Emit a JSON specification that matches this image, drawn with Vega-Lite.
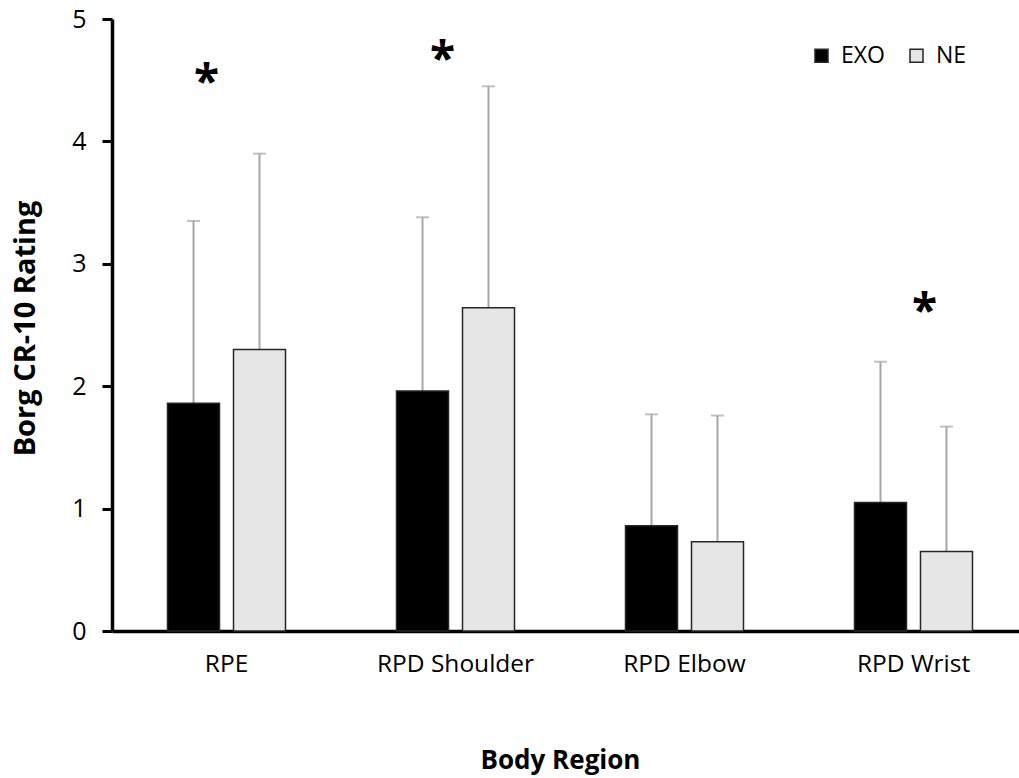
{
  "$schema": "https://vega.github.io/schema/vega-lite/v6.json",
  "width": 907,
  "height": 612,
  "autosize": {"type": "none"},
  "padding": {"left": 112, "top": 19, "right": 0, "bottom": 147},
  "background": "white",
  "config": {
    "view": {"stroke": null},
    "font": "Open Sans"
  },
  "datasets": {
    "bars": [
      {"region": "RPE", "group": "EXO", "mean": 1.86, "upper": 3.35},
      {"region": "RPE", "group": "NE", "mean": 2.30, "upper": 3.90},
      {"region": "RPD Shoulder", "group": "EXO", "mean": 1.96, "upper": 3.38},
      {"region": "RPD Shoulder", "group": "NE", "mean": 2.64, "upper": 4.45},
      {"region": "RPD Elbow", "group": "EXO", "mean": 0.86, "upper": 1.77},
      {"region": "RPD Elbow", "group": "NE", "mean": 0.73, "upper": 1.76},
      {"region": "RPD Wrist", "group": "EXO", "mean": 1.05, "upper": 2.20},
      {"region": "RPD Wrist", "group": "NE", "mean": 0.65, "upper": 1.67}
    ],
    "stars": [
      {"region": "RPE", "y": 4.54, "label": "*"},
      {"region": "RPD Shoulder", "y": 4.73, "label": "*"},
      {"region": "RPD Wrist", "y": 2.67, "label": "*"}
    ]
  },
  "encoding": {
    "x": {
      "field": "region",
      "type": "nominal",
      "sort": ["RPE", "RPD Shoulder", "RPD Elbow", "RPD Wrist"],
      "scale": {"domain": ["RPE", "RPD Shoulder", "RPD Elbow", "RPD Wrist"], "range": [0, 916], "paddingInner": 0.4847, "paddingOuter": 0.2424},
      "axis": {
        "title": "Body Region",
        "labelAngle": 0,
        "ticks": false,
        "domainColor": "black",
        "domainWidth": 3.5,
        "labelFont": "Open Sans",
        "labelFontSize": 24.5,
        "labelColor": "black",
        "labelPadding": 21,
        "titleFont": "Open Sans",
        "titleFontSize": 26,
        "titleFontWeight": "bold",
        "titleColor": "black",
        "titleBaseline": "middle",
        "titleY": 129,
        "titleX": 448
      }
    }
  },
  "layer": [
    {
      "data": {"name": "bars"},
      "mark": {"type": "rule", "color": "#a6a6a6", "strokeWidth": 2},
      "encoding": {
        "xOffset": {"field": "group", "type": "nominal", "scale": {"domain": ["EXO", "NE"], "paddingInner": 0.212, "paddingOuter": 0}},
        "y": {"field": "mean", "type": "quantitative"},
        "y2": {"field": "upper"}
      }
    },
    {
      "data": {"name": "bars"},
      "mark": {"type": "tick", "color": "#a6a6a6", "thickness": 2, "size": 13, "orient": "horizontal"},
      "encoding": {
        "xOffset": {"field": "group", "type": "nominal", "scale": {"domain": ["EXO", "NE"], "paddingInner": 0.212, "paddingOuter": 0}},
        "y": {"field": "upper", "type": "quantitative"}
      }
    },
    {
      "data": {"name": "bars"},
      "mark": {"type": "bar", "stroke": "#262626", "strokeWidth": 1.5},
      "encoding": {
        "xOffset": {"field": "group", "type": "nominal", "scale": {"domain": ["EXO", "NE"], "paddingInner": 0.212, "paddingOuter": 0}},
        "y": {
          "field": "mean",
          "type": "quantitative",
          "scale": {"domain": [0, 5], "nice": false},
          "axis": {
            "title": "Borg CR-10 Rating",
            "values": [0, 1, 2, 3, 4, 5],
            "format": "d",
            "grid": false,
            "tickSize": 10,
            "tickWidth": 3,
            "tickColor": "black",
            "domainColor": "black",
            "domainWidth": 3.5,
            "labelFont": "Open Sans",
            "labelFontSize": 25,
            "labelColor": "black",
            "labelPadding": 16,
            "titleFont": "Open Sans",
            "titleFontSize": 29,
            "titleFontWeight": "bold",
            "titleColor": "black",
            "titleBaseline": "middle",
            "titleAngle": -90,
            "titleX": -87,
            "titleY": 309
          }
        },
        "fill": {
          "field": "group",
          "type": "nominal",
          "scale": {"domain": ["EXO", "NE"], "range": ["#000000", "#e6e6e6"]},
          "legend": {
            "title": null,
            "orient": "none",
            "legendX": 698,
            "legendY": 25,
            "direction": "horizontal",
            "symbolType": "square",
            "symbolSize": 169,
            "symbolStrokeColor": "#262626",
            "symbolStrokeWidth": 1.5,
            "labelFont": "Open Sans",
            "labelFontSize": 23,
            "labelColor": "black",
            "labelOffset": 8,
            "columnPadding": 20
          }
        }
      }
    },
    {
      "data": {"name": "stars"},
      "transform": [{"filter": "datum.region === 'RPE'"}],
      "mark": {"type": "text", "fontSize": 46, "fontWeight": "bold", "font": "Open Sans", "baseline": "alphabetic", "dy": 23, "dx": -20, "color": "black"},
      "encoding": {"y": {"field": "y", "type": "quantitative"}, "text": {"field": "label"}}
    },
    {
      "data": {"name": "stars"},
      "transform": [{"filter": "datum.region === 'RPD Shoulder'"}],
      "mark": {"type": "text", "fontSize": 46, "fontWeight": "bold", "font": "Open Sans", "baseline": "alphabetic", "dy": 23, "dx": -13, "color": "black"},
      "encoding": {"y": {"field": "y", "type": "quantitative"}, "text": {"field": "label"}}
    },
    {
      "data": {"name": "stars"},
      "transform": [{"filter": "datum.region === 'RPD Wrist'"}],
      "mark": {"type": "text", "fontSize": 46, "fontWeight": "bold", "font": "Open Sans", "baseline": "alphabetic", "dy": 23, "dx": 11, "color": "black"},
      "encoding": {"y": {"field": "y", "type": "quantitative"}, "text": {"field": "label"}}
    }
  ]
}
